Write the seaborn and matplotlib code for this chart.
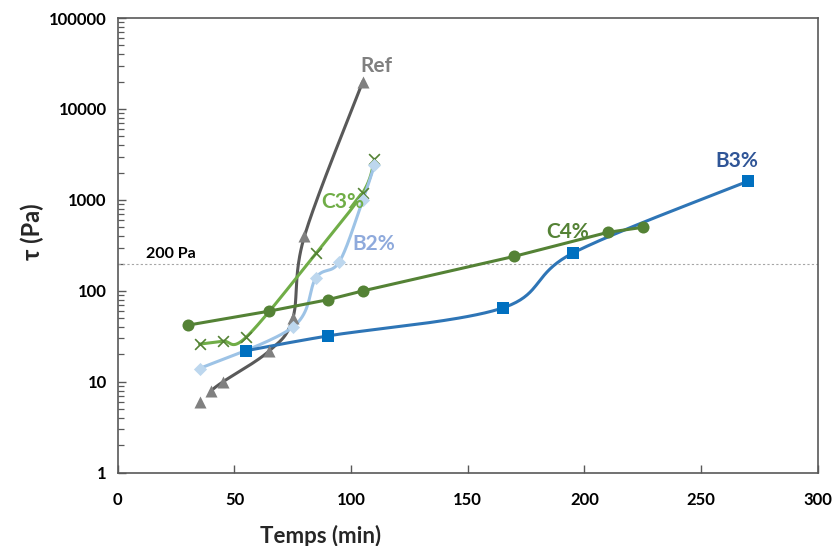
import numpy as np
import pandas as pd
import seaborn as sns
import matplotlib.pyplot as plt
from matplotlib.ticker import LogLocator, NullFormatter

# data (time in min, tau in Pa)
ref_t = [35, 40, 45, 65, 75, 80, 105]
ref_tau = [6, 8, 10, 22, 50, 400, 20000]
c3_t = [35, 45, 55, 85, 105, 110]
c3_tau = [26, 28, 31, 260, 1200, 2800]
b2_t = [35, 75, 85, 95, 105, 110]
b2_tau = [14, 40, 140, 210, 1000, 2400]
b3_t = [55, 90, 165, 195, 270]
b3_tau = [22, 32, 65, 260, 1600]
c4_t = [30, 65, 90, 105, 170, 210, 225]
c4_tau = [42, 60, 80, 100, 240, 440, 500]


def smooth(x, y, n=40):
    # Excel-style smoothed line: Catmull-Rom through points, in log-y space
    x = np.asarray(x, float)
    ly = np.log10(np.asarray(y, float))
    px = np.concatenate([[x[0]], x, [x[-1]]])
    py = np.concatenate([[ly[0]], ly, [ly[-1]]])
    xs, ys = [], []
    for i in range(1, len(px) - 2):
        u = np.linspace(0, 1, n)
        for p, out in ((px, xs), (py, ys)):
            p0, p1, p2, p3 = p[i - 1], p[i], p[i + 1], p[i + 2]
            out.extend(0.5 * (2 * p1 + (-p0 + p2) * u
                              + (2 * p0 - 5 * p1 + 4 * p2 - p3) * u ** 2
                              + (-p0 + 3 * p1 - 3 * p2 + p3) * u ** 3))
    return pd.DataFrame({"t": xs, "tau": 10 ** np.array(ys)})


sns.set_theme(style="white")
plt.rcParams["font.family"] = ["Lato", "DejaVu Sans"]
plt.rcParams["font.weight"] = "bold"

fig = plt.figure(figsize=(8.36, 5.46), dpi=100)
ax = fig.add_axes([0.141, 0.134, 0.837, 0.833])

ax.axhline(200, color="#A6A6A6", lw=0.8, ls=(0, (2, 2)), zorder=1)

series = [
    # t, tau, line colour, marker, marker colour, size, line from index
    (ref_t, ref_tau, "#595959", "^", "#808080", 75, 1),
    (c3_t, c3_tau, "#70AD47", "x", "#548235", 60, 0),
    (b2_t, b2_tau, "#9DC3E6", "D", "#BDD7EE", 45, 0),
    (b3_t, b3_tau, "#2E75B6", "s", "#0070C0", 80, 0),
    (c4_t, c4_tau, "#548235", "o", "#548235", 75, 0),
]
for t, tau, lc, m, mc, s, start in series:
    curve = smooth(t[start:], tau[start:]) if m != "o" else pd.DataFrame({"t": t, "tau": tau})
    sns.lineplot(data=curve, x="t", y="tau", sort=False, color=lc, lw=2.2, ax=ax, zorder=2)
    pts = pd.DataFrame({"t": t, "tau": tau})
    if m == "x":
        sns.scatterplot(data=pts, x="t", y="tau", marker="x", color=mc, s=s, linewidth=1.2, ax=ax, zorder=3)
    else:
        sns.scatterplot(data=pts, x="t", y="tau", marker=m, color=mc, s=s, edgecolor=mc, linewidth=0, ax=ax, zorder=3)

ax.set_yscale("log")
ax.set_xlim(0, 300)
ax.set_ylim(1, 100000)
ax.set_xticks(range(0, 301, 50))
ax.set_yticks([1, 10, 100, 1000, 10000, 100000])
ax.set_yticklabels(["1", "10", "100", "1000", "10000", "100000"])
ax.yaxis.set_minor_locator(LogLocator(base=10, subs=range(2, 10)))
ax.yaxis.set_minor_formatter(NullFormatter())
ax.tick_params(axis="both", which="major", direction="in", length=6, width=1, colors="#595959",
               labelcolor="black", labelsize=12)
ax.tick_params(axis="y", which="minor", direction="in", length=4, width=0.9, colors="#595959", left=True)
ax.tick_params(axis="x", pad=14)
ax.tick_params(axis="y", pad=8)
ax.tick_params(left=True, bottom=True)
for sp in ax.spines.values():
    sp.set_color("#595959")
    sp.set_linewidth(1.2)

ax.set_xlabel("Temps (min)", fontsize=16, fontweight="bold", labelpad=6)
ax.xaxis.set_label_coords(0.289, -0.115)
ax.set_ylabel("τ (Pa)", fontsize=17, fontweight="bold", labelpad=14)
ax.yaxis.set_label_coords(-0.105, 0.53)

ax.text(104, 23000, "Ref", color="#808080", fontsize=15, fontweight="bold", va="bottom")
ax.text(87, 820, "C3%", color="#70AD47", fontsize=15, fontweight="bold")
ax.text(100.5, 280, "B2%", color="#8FAADC", fontsize=15, fontweight="bold")
ax.text(193, 380, "C4%", color="#548235", fontsize=15, fontweight="bold", ha="center")
ax.text(265.5, 2300, "B3%", color="#2F5597", fontsize=15, fontweight="bold", ha="center")
ax.text(12, 230, "200 Pa", color="black", fontsize=11.5, fontweight="bold")

fig.savefig("out.png", dpi=100)
